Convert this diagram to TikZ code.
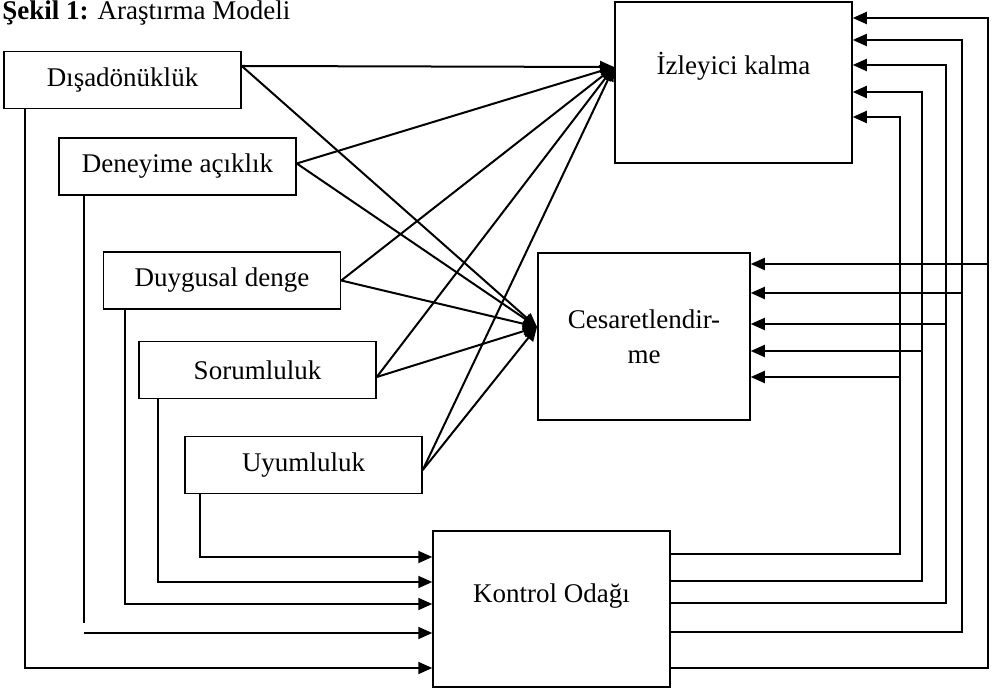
\documentclass[tikz,border=0pt]{standalone}
\usepackage{fontspec}
\setmainfont{Liberation Serif}
\usetikzlibrary{arrows.meta}
\begin{document}
\begin{tikzpicture}[x=0.5pt,y=-0.5pt]
  \tikzstyle{yazi}=[font=\fontsize{13.5pt}{17.5pt}\selectfont]
  \tikzstyle{kutu}=[yazi,draw,line width=0.75pt,inner sep=0pt,minimum width=118.5pt,minimum height=28.5pt]
  \tikzstyle{ok}=[line width=1pt,-{Triangle[length=7pt,width=6pt]}]
  \tikzstyle{cizgi}=[line width=1pt]
  \useasboundingbox (0,0) rectangle (994,688);
  \node[yazi,anchor=base west,inner sep=0pt] (baslik) at (2,20) {\textbf{Şekil 1:} Araştırma Modeli};
  \node[kutu] (disa) at (122.5,80) {Dışadönüklük};
  \node[kutu] (deney) at (177.5,166.5) {Deneyime açıklık};
  \node[kutu] (duygu) at (222,280.5) {Duygusal denge};
  \node[kutu] (sorum) at (257.5,370) {Sorumluluk};
  \node[kutu] (uyum) at (303.5,465) {Uyumluluk};
  \node[kutu,minimum height=80.5pt,text height=10pt,text depth=18pt] (izle) at (733.5,82.5) {İzleyici kalma};
  \node[kutu,minimum width=106pt,minimum height=83.5pt,align=center] (cesaret) at (644,336.5) {Cesaretlendir-\\me};
  \node[kutu,minimum height=78pt,text height=10pt,text depth=16.5pt] (kontrol) at (551.5,609) {Kontrol Odağı};
  \coordinate (hi) at (614,67);
  \coordinate (hc) at (537,327);
  \draw[ok] ([yshift=7pt]disa.east) -- (hi);
  \draw[ok] ([yshift=7pt]disa.east) -- (hc);
  \draw[ok] ([yshift=1.5pt]deney.east) -- (hi);
  \draw[ok] ([yshift=1.5pt]deney.east) -- (hc);
  \draw[ok] (duygu.east) -- (hi);
  \draw[ok] (duygu.east) -- (hc);
  \draw[ok] ([yshift=-3.5pt]sorum.east) -- (hi);
  \draw[ok] ([yshift=-3.5pt]sorum.east) -- (hc);
  \draw[ok] ([yshift=-2.5pt]uyum.east) -- (hi);
  \draw[ok] ([yshift=-2.5pt]uyum.east) -- (hc);
  \foreach \yk/\xv/\yi/\yc in {554/900/117/377,581/922/92/351,603/946/65/324,632/962/40/293,668/988/18/264}{
    \draw[ok] (kontrol.east |- 0,\yk) -| (\xv,\yi) -- (izle.east |- 0,\yi);
    \draw[ok] (\xv,\yc) -- (cesaret.east |- 0,\yc);
  }
  \coordinate (kopuk1) at (84,623);
  \coordinate (kopuk2) at (84,633);
  \draw[ok] (disa.south -| 25,0) |- (kontrol.west |- 0,668);
  \draw[cizgi] (deney.south -| 84,0) -- (kopuk1);
  \draw[ok] (kopuk2) -- (kontrol.west |- kopuk2);
  \draw[ok] (duygu.south -| 125,0) |- (kontrol.west |- 0,604);
  \draw[ok] (sorum.south -| 158,0) |- (kontrol.west |- 0,582);
  \draw[ok] (uyum.south -| 200,0) |- (kontrol.west |- 0,557);
\end{tikzpicture}
\end{document}
